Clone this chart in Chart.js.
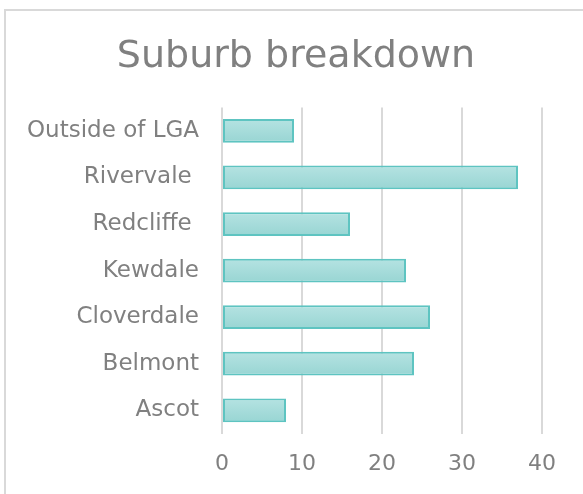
<!DOCTYPE html>
<html>
<head>
<meta charset="utf-8">
<script src="https://cdn.jsdelivr.net/npm/chart.js@4"></script>
<style>
  html, body { margin: 0; padding: 0; background: #fff; }
  #frame {
    position: absolute; left: 4px; top: 9px; width: 600px; height: 520px;
    border: 2px solid #d9d9d9; box-sizing: border-box;
  }
  #wrap { position: absolute; left: 0; top: 0; width: 583px; height: 494px; }
</style>
</head>
<body>
<div id="frame"></div>
<div id="wrap"><canvas id="chart"></canvas></div>
<script>
// suburbs listed top to bottom as in the chart
const suburbs = ['Outside of LGA', 'Rivervale ', 'Redcliffe ', 'Kewdale', 'Cloverdale', 'Belmont', 'Ascot'];
const counts = [9, 37, 16, 23, 26, 24, 8];
const axisMax = 40;
const axisStep = 10;

const textColor = '#808080';
const gridColor = '#d9d9d9';
const barHalf = 12;

function barGradient(context) {
    const chart = context.chart;
    const yScale = chart.scales.y;
    if (!yScale || context.dataIndex === undefined) return '#a6dcdb';
    const y = yScale.getPixelForValue(context.dataIndex);
    if (!isFinite(y)) return '#a6dcdb';
    const g = chart.ctx.createLinearGradient(0, y - barHalf, 0, y + barHalf);
    g.addColorStop(0, '#b5e3e2');
    g.addColorStop(1, '#98d5d3');
    return g;
}

new Chart(document.getElementById('chart'), {
    type: 'bar',
    data: {
        labels: suburbs,
        datasets: [{
            label: 'Suburb breakdown',
            data: counts,
            backgroundColor: barGradient,
            borderColor: '#5ec4c1',
            borderWidth: 2,
            borderSkipped: false,
            barPercentage: 0.51,
            categoryPercentage: 1
        }]
    },
    options: {
        indexAxis: 'y',
        responsive: true,
        maintainAspectRatio: false,
        animation: false,
        layout: { padding: { left: 9, right: 0, top: 12, bottom: 0 } },
        plugins: {
            legend: { display: false },
            tooltip: { enabled: false },
            title: {
                display: true,
                text: 'Suburb breakdown',
                color: textColor,
                font: { family: 'DejaVu Sans', size: 38, weight: 'normal' },
                padding: { top: 22, bottom: 28 }
            }
        },
        scales: {
            x: {
                min: 0,
                max: axisMax,
                ticks: {
                    stepSize: axisStep,
                    color: textColor,
                    padding: 17,
                    font: { family: 'DejaVu Sans', size: 22 }
                },
                grid: { color: gridColor, lineWidth: 2, drawTicks: false },
                border: { display: false }
            },
            y: {
                ticks: {
                    color: textColor,
                    padding: 23,
                    font: { family: 'DejaVu Sans', size: 23 }
                },
                grid: { display: false, drawTicks: false },
                border: { display: false },
                afterFit: (scale) => { scale.width = 213; }
            },
            // empty strip on the right so the plot stops short of the frame
            yRight: {
                type: 'linear',
                position: 'right',
                ticks: { display: false },
                grid: { display: false, drawTicks: false },
                border: { display: false },
                afterFit: (scale) => { scale.width = 41; }
            }
        }
    }
});
</script>
</body>
</html>
